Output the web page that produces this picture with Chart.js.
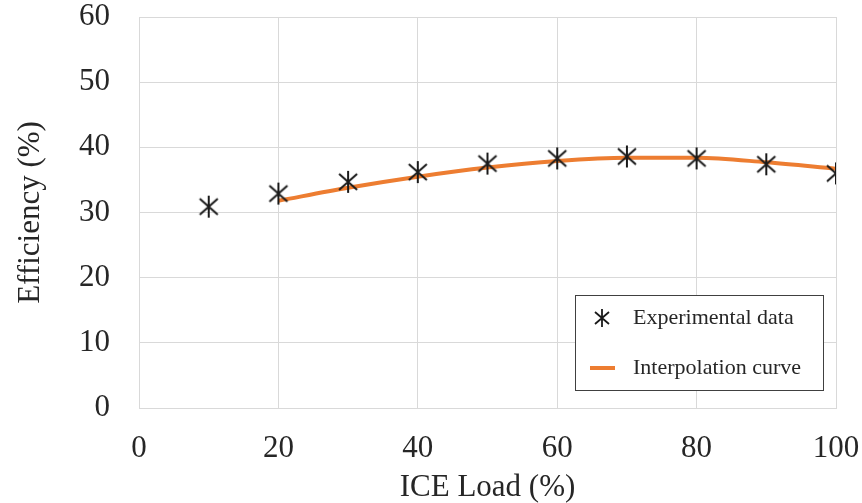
<!DOCTYPE html>
<html>
<head>
<meta charset="utf-8">
<script src="https://cdn.jsdelivr.net/npm/chart.js@4.4.1/dist/chart.umd.min.js"></script>
<style>
  html, body { margin: 0; padding: 0; background: #fff; }
  #wrap { width: 862px; height: 503px; }
</style>
</head>
<body>
<div id="wrap"><canvas id="effChart" width="862" height="503"></canvas></div>
<script>
// measured efficiency vs engine load
const loadPts = [10, 20, 30, 40, 50, 60, 70, 80, 90, 100];
const effMeasured = [30.9, 32.9, 34.7, 36.2, 37.5, 38.3, 38.6, 38.3, 37.4, 36.0];

// fitted curve
const curveLoad = [20, 30, 40, 50, 60, 70, 80, 90, 100];
const effCurve = [31.8, 33.8, 35.5, 36.9, 37.9, 38.4, 38.4, 37.7, 36.7];

const xTicks = [0, 20, 40, 60, 80, 100];
const yTicks = [0, 10, 20, 30, 40, 50, 60];

const serif = '"Liberation Serif", "Times New Roman", serif';
const textColor = '#262626';
const gridColor = '#d9d9d9';
const orange = '#ed7d31';

// six-armed asterisk marker
const makeStar = (size, color, lw) => {
    const c = document.createElement('canvas');
    c.width = size;
    c.height = size;
    const g = c.getContext('2d');
    g.strokeStyle = color;
    g.lineWidth = lw;
    const m = size / 2;
    g.beginPath();
    g.moveTo(m, 1); g.lineTo(m, size - 1);
    g.moveTo(3, 4); g.lineTo(size - 3, size - 4);
    g.moveTo(size - 3, 4); g.lineTo(3, size - 4);
    g.stroke();
    return c;
};
const starMarker = makeStar(24, '#1a1a1a', 2);
const starSmall = makeStar(20, '#1a1a1a', 1.8);

// framed legend inside the plot, lower right
const boxLegend = {
    id: 'boxLegend',
    afterDraw(chart) {
        const { ctx, chartArea } = chart;
        const w = 248, h = 95;
        const left = chartArea.right - 261;
        const top = chartArea.bottom - 113;
        ctx.save();
        ctx.fillStyle = '#fff';
        ctx.fillRect(left, top, w, h);
        ctx.strokeStyle = '#404040';
        ctx.lineWidth = 1;
        ctx.strokeRect(left + 0.5, top + 0.5, w, h);

        ctx.font = '22px ' + serif;
        ctx.fillStyle = textColor;
        ctx.textBaseline = 'middle';
        ctx.textAlign = 'left';

        const row1 = top + 23, row2 = top + 73;
        ctx.drawImage(starSmall, left + 27 - 10, row1 - 10);
        ctx.fillText(chart.data.datasets[0].label, left + 58, row1);

        ctx.strokeStyle = orange;
        ctx.lineWidth = 4;
        ctx.beginPath();
        ctx.moveTo(left + 15, row2);
        ctx.lineTo(left + 40, row2);
        ctx.stroke();
        ctx.fillText(chart.data.datasets[1].label, left + 58, row2);
        ctx.restore();
    }
};

new Chart(document.getElementById('effChart'), {
    type: 'scatter',
    data: {
        datasets: [
            {
                label: 'Experimental data',
                data: loadPts.map((x, i) => ({ x, y: effMeasured[i] })),
                pointStyle: starMarker,
                pointRadius: 12,
                showLine: false,
                order: 0
            },
            {
                label: 'Interpolation curve',
                data: curveLoad.map((x, i) => ({ x, y: effCurve[i] })),
                showLine: true,
                borderColor: orange,
                borderWidth: 4,
                pointRadius: 0,
                tension: 0.4,
                cubicInterpolationMode: 'monotone',
                order: 1
            }
        ]
    },
    options: {
        responsive: false,
        animation: false,
        layout: { padding: { top: 17, right: 26, left: 0, bottom: 0 } },
        plugins: {
            legend: { display: false },
            tooltip: { enabled: false }
        },
        scales: {
            x: {
                type: 'linear',
                min: 0,
                max: 100,
                afterBuildTicks: (s) => { s.ticks = xTicks.map(v => ({ value: v })); },
                afterFit: (s) => { s.height = 95; s.paddingLeft = 0; s.paddingRight = 0; },
                grid: { color: gridColor, drawTicks: false },
                border: { color: gridColor },
                ticks: { color: textColor, font: { family: serif, size: 31 }, padding: 22, maxRotation: 0 },
                title: { display: true, text: 'ICE Load (%)', color: textColor, font: { family: serif, size: 31, lineHeight: 1 }, padding: { top: 6, bottom: 0 } }
            },
            y: {
                min: 0,
                max: 60,
                afterBuildTicks: (s) => { s.ticks = yTicks.map(v => ({ value: v })); },
                afterFit: (s) => { s.width = 139; s.paddingTop = 0; s.paddingBottom = 0; },
                grid: { color: gridColor, drawTicks: false },
                border: { color: gridColor },
                ticks: { color: textColor, font: { family: serif, size: 31 }, padding: 29 },
                title: { display: true, text: 'Efficiency (%)', color: textColor, font: { family: serif, size: 31 }, padding: { top: 12, bottom: 0 } }
            }
        }
    },
    plugins: [boxLegend]
});
</script>
</body>
</html>
